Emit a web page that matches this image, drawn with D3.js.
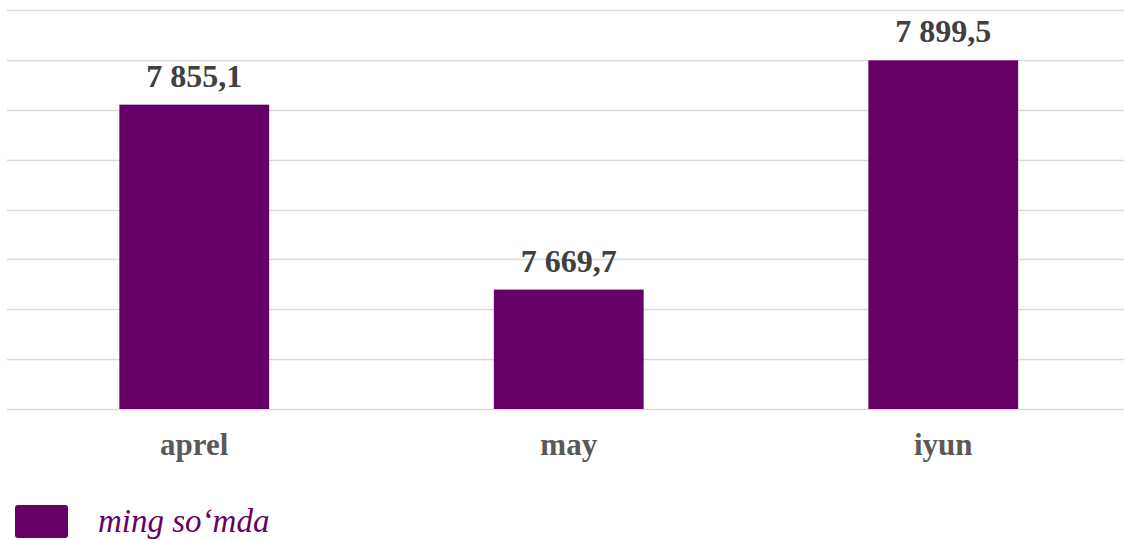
<!DOCTYPE html>
<html><head><meta charset="utf-8">
<script src="https://cdn.jsdelivr.net/npm/d3@7"></script>
<style>html,body{margin:0;padding:0;background:#fff;}svg{display:block;}</style>
</head><body>
<svg id="chart" width="1124" height="540"></svg>
<script>
const categories = ["aprel", "may", "iyun"];
const values = [7855.1, 7669.7, 7899.5];
const yTicks = [7550, 7600, 7650, 7700, 7750, 7800, 7850, 7900, 7950];
const seriesName = "ming so‘mda";

const svg = d3.select("#chart");
const purple = "#660066";
const x = d3.scaleBand().domain(categories).range([7, 1130.5]).paddingInner(0.6).paddingOuter(0.3);
const y = d3.scaleLinear().domain([7550, 7950]).range([409, 10]);

svg.append("g").selectAll("line").data(yTicks).join("line")
  .attr("x1", 7).attr("x2", 1124)
  .attr("y1", d => Math.round(y(d)) + 0.5).attr("y2", d => Math.round(y(d)) + 0.5)
  .attr("stroke", "#d9d9d9").attr("stroke-width", 1.5);

svg.append("g").selectAll("rect").data(values).join("rect")
  .attr("x", (d, i) => x(categories[i]))
  .attr("width", x.bandwidth())
  .attr("y", d => y(d))
  .attr("height", d => y(7550) - y(d))
  .attr("fill", purple);

const fmt = v => {
  const s = v.toFixed(1).replace(".", ",");
  const [ip, dp] = s.split(",");
  return ip.replace(/\B(?=(\d{3})+(?!\d))/g, " ") + "," + dp;
};

svg.append("g").selectAll("text").data(values).join("text")
  .attr("x", (d, i) => x(categories[i]) + x.bandwidth() / 2)
  .attr("y", d => y(d) - 18)
  .attr("text-anchor", "middle")
  .attr("font-family", "'Liberation Serif', 'Times New Roman', serif")
  .attr("font-weight", "bold").attr("font-size", 32)
  .attr("fill", "#404040")
  .text(d => fmt(d));

svg.append("g").selectAll("text").data(categories).join("text")
  .attr("x", d => x(d) + x.bandwidth() / 2)
  .attr("y", 455)
  .attr("text-anchor", "middle")
  .attr("font-family", "'Liberation Serif', 'Times New Roman', serif")
  .attr("font-weight", "bold").attr("font-size", 31)
  .attr("fill", "#595959")
  .text(d => d);

const lg = svg.append("g");
lg.append("rect").attr("x", 15).attr("y", 505).attr("width", 53).attr("height", 33)
  .attr("rx", 3).attr("fill", purple);
lg.append("text").attr("x", 98).attr("y", 532)
  .attr("font-family", "'Liberation Serif', 'Times New Roman', serif")
  .attr("font-style", "italic").attr("font-size", 33)
  .attr("fill", purple).text(seriesName);
</script>
</body></html>
